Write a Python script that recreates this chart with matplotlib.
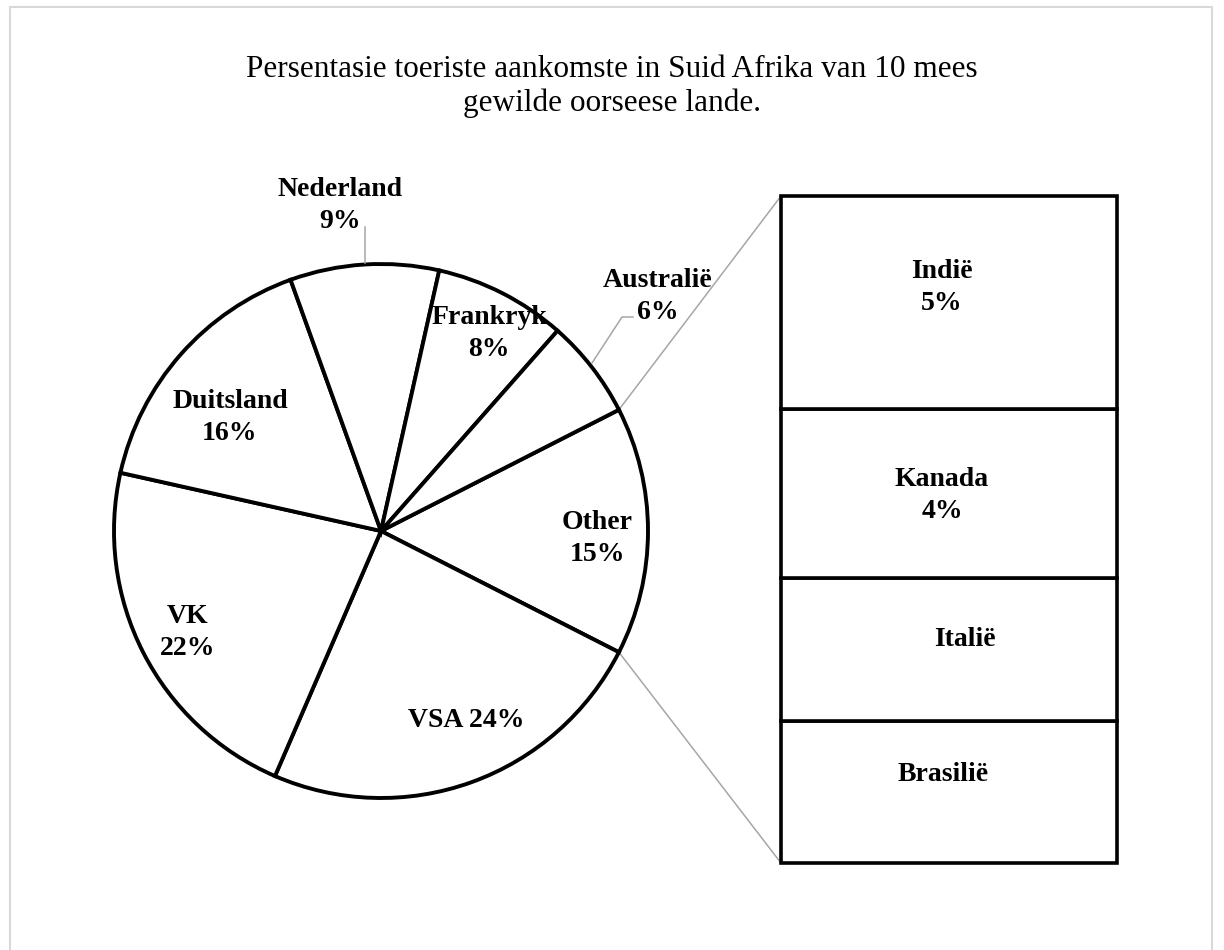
import numpy as np
import matplotlib.pyplot as plt
from matplotlib.patches import Rectangle

plt.rcParams['font.family'] = ['Liberation Serif', 'DejaVu Serif']

W, H = 1224, 950

# pie slices, clockwise starting with the "Other" slice (points at the bar)
pie_labels = ['Other', 'VSA', 'VK', 'Duitsland', 'Nederland', 'Frankryk', 'Australië']
pie_values = [15, 24, 22, 16, 9, 8, 6]

# what makes up "Other" (top to bottom in the bar)
bar_labels = ['Indië', 'Kanada', 'Italië', 'Brasilië']
bar_values = [4.8, 3.8, 3.2, 3.2]
bar_show_pct = [True, True, False, False]

title = 'Persentasie toeriste aankomste in Suid Afrika van 10 mees\ngewilde oorseese lande.'

# label positions in pixels (x centre, cap centre of first line)
pie_label_pos = {
    'Other': (597, 520), 'VSA': (466, 718), 'VK': (188, 614),
    'Duitsland': (230, 399), 'Nederland': (340, 187),
    'Frankryk': (489, 315), 'Australië': (658, 278),
}
bar_label_pos = [(942, 269), (942, 477), (965, 637), (943, 772)]

fig = plt.figure(figsize=(W / 100, H / 100), dpi=100)
ax = fig.add_axes([0, 0, 1, 1])

# pie
cx, cy, r = 381, H - 531, 267
start = pie_values[0] / sum(pie_values) * 360 / 2
ax.pie(pie_values, center=(cx, cy), radius=r, startangle=start, counterclock=False,
       frame=True, wedgeprops=dict(facecolor='white', edgecolor='black', linewidth=2.8))

# stacked bar for "Other"
bx0, bx1 = 781, 1117
btop, bbot = H - 196, H - 863
scale = (btop - bbot) / sum(bar_values)
heights = np.array(bar_values[::-1]) * scale
bottoms = bbot + np.concatenate([[0], np.cumsum(heights)[:-1]])
ax.bar((bx0 + bx1) / 2, heights, width=bx1 - bx0, bottom=bottoms,
       color='white', edgecolor='black', linewidth=2.6, zorder=3)

# connector lines pie -> bar
a = np.deg2rad(start)
gray = '#a6a6a6'
ax.plot([cx + r * np.cos(a), bx0], [cy + r * np.sin(a), btop], color=gray, lw=1.1, zorder=0.5)
ax.plot([cx + r * np.cos(a), bx0], [cy - r * np.sin(a), bbot], color=gray, lw=1.1, zorder=0.5)

# leader lines
ax.plot([365, 365], [H - 227, H - 263], color=gray, lw=1.1)
ax.plot([633, 622, 592], [H - 317, H - 317, H - 363], color=gray, lw=1.1)

fs = 20
gap = 32
def put(x, y, s):
    ax.text(x, H - (y + 9), s, ha='center', va='baseline', fontsize=fs,
            fontweight='bold', zorder=5)

for lab, v in zip(pie_labels, pie_values):
    x, y = pie_label_pos[lab]
    if lab == 'VSA':
        put(x, y, f'{lab} {v:.0f}%')
    else:
        put(x, y, lab)
        put(x, y + gap, f'{v:.0f}%')

for (x, y), lab, v, show in zip(bar_label_pos, bar_labels, bar_values, bar_show_pct):
    put(x, y, lab)
    if show:
        put(x, y + gap, f'{v:.0f}%')

# title
t1, t2 = title.split('\n')
ax.text(W / 2, H - 77, t1, ha='center', va='baseline', fontsize=22.5)
ax.text(W / 2, H - 111, t2, ha='center', va='baseline', fontsize=22.5)

# chart border
ax.add_patch(Rectangle((10, -20), W - 12 - 10, H - 7 + 20, fill=False,
                       edgecolor='#d9d9d9', lw=1.5, clip_on=False))

ax.set_xlim(0, W)
ax.set_ylim(0, H)
ax.axis('off')

fig.savefig('out.png', dpi=100)
